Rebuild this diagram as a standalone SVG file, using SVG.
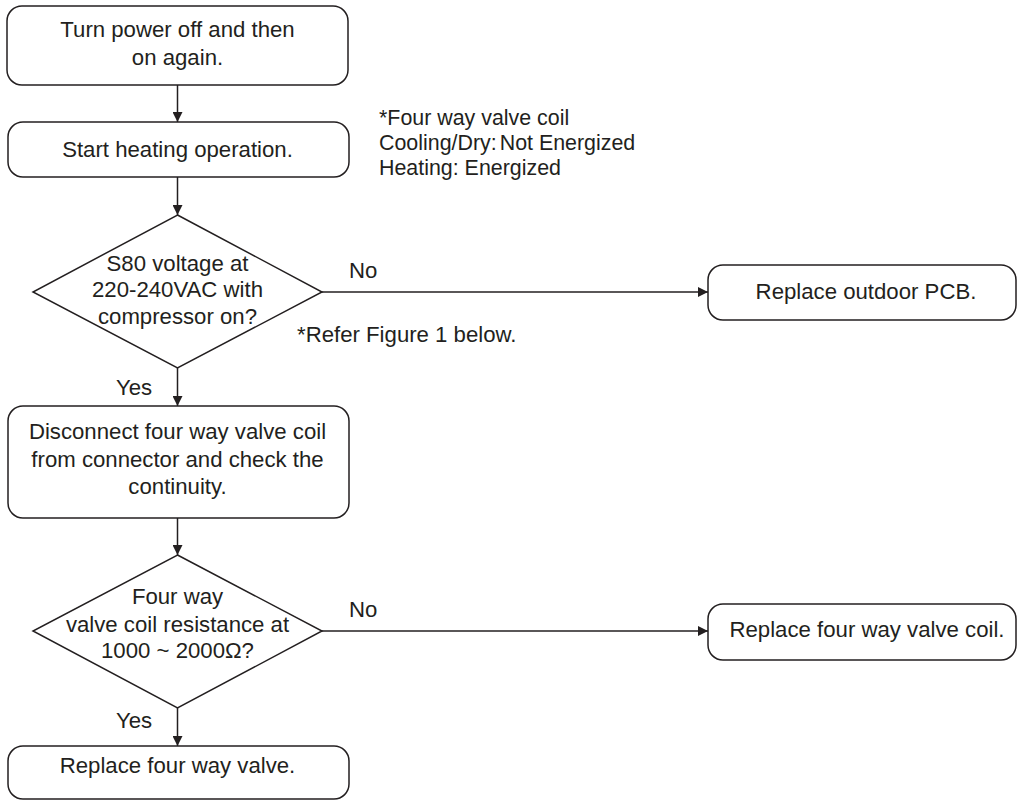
<svg xmlns="http://www.w3.org/2000/svg" width="1017" height="800" viewBox="0 0 1017 800">
<style>
.box{fill:#fff;stroke:#231f20;stroke-width:1.5}
.t{font-family:"Liberation Sans",Arial,sans-serif;font-size:22.2px;fill:#231f20}
.n{font-size:21.4px}
.c{text-anchor:middle}
.ln{fill:none;stroke:#231f20;stroke-width:1.5}
</style>
<defs>
<marker id="ah" viewBox="0 0 10 10" refX="10" refY="5" markerWidth="10" markerHeight="10" markerUnits="userSpaceOnUse" orient="auto">
<path d="M0,0 L10,5 L0,10 Z" fill="#231f20"/>
</marker>
</defs>
<rect width="1017" height="800" fill="#fff"/>
<g id="connectors">
<line class="ln" x1="177.5" y1="85" x2="177.5" y2="122" marker-end="url(#ah)"/>
<line class="ln" x1="177.5" y1="177" x2="177.5" y2="215" marker-end="url(#ah)"/>
<line class="ln" x1="177.5" y1="368" x2="177.5" y2="406" marker-end="url(#ah)"/>
<line class="ln" x1="177.5" y1="518" x2="177.5" y2="555" marker-end="url(#ah)"/>
<line class="ln" x1="177.5" y1="708" x2="177.5" y2="746" marker-end="url(#ah)"/>
<line class="ln" x1="322" y1="292" x2="708" y2="292" marker-end="url(#ah)"/>
<line class="ln" x1="322" y1="631" x2="708" y2="631" marker-end="url(#ah)"/>
<text class="t" x="116" y="395">Yes</text>
<text class="t" x="116" y="728">Yes</text>
<text class="t" x="349" y="278">No</text>
<text class="t" x="349" y="617">No</text>
</g>
<g id="n1">
<rect class="box" x="7" y="6" width="341" height="79" rx="15"/>
<text class="t c" x="177.5" y="37">Turn power off and then</text>
<text class="t c" x="177.5" y="65">on again.</text>
</g>
<g id="n2">
<rect class="box" x="8" y="122" width="341" height="55" rx="15"/>
<text class="t c" x="177.5" y="157">Start heating operation.</text>
</g>
<g id="note1">
<text class="t n" x="379" y="125">*Four way valve coil</text>
<text class="t n" x="379" y="150">Cooling/Dry:<tspan dx="3">Not Energized</tspan></text>
<text class="t n" x="379" y="175">Heating: Energized</text>
</g>
<g id="d1">
<polygon class="box" points="177.5,215 322,292 177.5,368 33,292"/>
<text class="t c" x="177.5" y="271">S80 voltage at</text>
<text class="t c" x="177.5" y="297">220-240VAC with</text>
<text class="t c" x="177.5" y="324">compressor on?</text>
</g>
<g id="note2">
<text class="t" x="297" y="342">*Refer Figure 1 below.</text>
</g>
<g id="n5">
<rect class="box" x="708" y="265" width="308" height="55" rx="15"/>
<text class="t c" x="866" y="299">Replace outdoor PCB.</text>
</g>
<g id="n3">
<rect class="box" x="8" y="406" width="341" height="112" rx="15"/>
<text class="t c" x="177.5" y="439">Disconnect four way valve coil</text>
<text class="t c" x="177.5" y="467">from connector and check the</text>
<text class="t c" x="177.5" y="494">continuity.</text>
</g>
<g id="d2">
<polygon class="box" points="177.5,555 322,631 177.5,708 33,631"/>
<text class="t c" x="177.5" y="604">Four way</text>
<text class="t c" x="177.5" y="632">valve coil resistance at</text>
<text class="t c" x="177.5" y="658">1000 ~ 2000Ω?</text>
</g>
<g id="n6">
<rect class="box" x="708" y="604" width="308" height="56" rx="15"/>
<text class="t c" x="867" y="637">Replace four way valve coil.</text>
</g>
<g id="n4">
<rect class="box" x="8" y="746" width="341" height="53" rx="15"/>
<text class="t c" x="177.5" y="773">Replace four way valve.</text>
</g>
</svg>
